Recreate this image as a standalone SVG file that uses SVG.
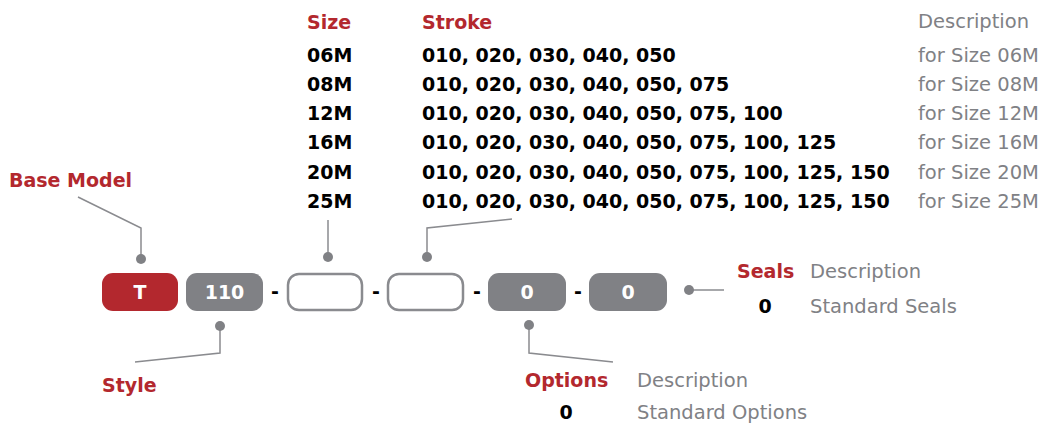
<svg xmlns="http://www.w3.org/2000/svg" width="1046" height="423" viewBox="0 0 1046 423">
<style>
.red{font-family:"DejaVu Sans","Liberation Sans",sans-serif;font-weight:bold;font-size:19px;fill:#b3282e}
.blk{font-family:"DejaVu Sans","Liberation Sans",sans-serif;font-weight:bold;font-size:19px;fill:#000}
.gry{font-family:"DejaVu Sans","Liberation Sans",sans-serif;font-size:19.5px;fill:#808185}
.wht{font-family:"DejaVu Sans","Liberation Sans",sans-serif;font-weight:bold;font-size:19px;fill:#fff;text-anchor:middle}
.dash{font-family:"DejaVu Sans","Liberation Sans",sans-serif;font-weight:bold;font-size:19px;fill:#000;text-anchor:middle}
.fillred{fill:#b3282e}
.fillgry{fill:#808185}
.outline{fill:#fff;stroke:#8a8b8f;stroke-width:2.5}
.conn{fill:none;stroke:#8a8b8f;stroke-width:1.5}
.dot{fill:#808185}
</style>
<rect width="1046" height="423" fill="#fff"/>
<g id="connectors">
<polyline class="conn" points="78,197 141,228 141,259"/>
<circle class="dot" cx="141" cy="259" r="5"/>
<polyline class="conn" points="135,362 220,353 220,326"/>
<circle class="dot" cx="220" cy="326" r="5"/>
<polyline class="conn" points="328,220 328,257"/>
<circle class="dot" cx="328" cy="257" r="5"/>
<polyline class="conn" points="512,219 427,228 427,257"/>
<circle class="dot" cx="427" cy="257" r="5"/>
<polyline class="conn" points="529,325 529,353 613,362"/>
<circle class="dot" cx="529" cy="325" r="5"/>
<polyline class="conn" points="689,290 724,290"/>
<circle class="dot" cx="689" cy="290" r="5"/>
</g>
<g id="box-T"><rect class="fillred" x="102" y="273" width="76" height="38" rx="11"/><text class="wht" x="140" y="299">T</text></g>
<g id="box-110"><rect class="fillgry" x="186" y="273" width="77" height="38" rx="11"/><text class="wht" x="224.5" y="299">110</text></g>
<g id="dash1"><text class="dash" x="275" y="298">-</text></g>
<g id="box-size"><rect class="outline" x="288" y="274" width="74" height="36" rx="11"/></g>
<g id="dash2"><text class="dash" x="376" y="298">-</text></g>
<g id="box-stroke"><rect class="outline" x="388" y="274" width="75" height="36" rx="11"/></g>
<g id="dash3"><text class="dash" x="477" y="298">-</text></g>
<g id="box-options"><rect class="fillgry" x="488" y="273" width="78" height="38" rx="11"/><text class="wht" x="527" y="299">0</text></g>
<g id="dash4"><text class="dash" x="578" y="298">-</text></g>
<g id="box-seals"><rect class="fillgry" x="589" y="273" width="78" height="38" rx="11"/><text class="wht" x="628" y="299">0</text></g>
<g id="base-model"><text class="red" x="9" y="187">Base Model</text></g>
<g id="style"><text class="red" x="102" y="392">Style</text></g>
<g id="size-table">
<text class="red" x="307" y="29">Size</text>
<text class="red" x="422" y="29">Stroke</text>
<text class="gry" x="918" y="28">Description</text>
<text class="blk" x="307" y="62">06M</text>
<text class="blk" x="307" y="91">08M</text>
<text class="blk" x="307" y="120">12M</text>
<text class="blk" x="307" y="149">16M</text>
<text class="blk" x="307" y="179">20M</text>
<text class="blk" x="307" y="208">25M</text>
<text class="blk" x="422" y="62">010, 020, 030, 040, 050</text>
<text class="blk" x="422" y="91">010, 020, 030, 040, 050, 075</text>
<text class="blk" x="422" y="120">010, 020, 030, 040, 050, 075, 100</text>
<text class="blk" x="422" y="149">010, 020, 030, 040, 050, 075, 100, 125</text>
<text class="blk" x="422" y="179">010, 020, 030, 040, 050, 075, 100, 125, 150</text>
<text class="blk" x="422" y="208">010, 020, 030, 040, 050, 075, 100, 125, 150</text>
<text class="gry" x="918" y="62">for Size 06M</text>
<text class="gry" x="918" y="91">for Size 08M</text>
<text class="gry" x="918" y="120">for Size 12M</text>
<text class="gry" x="918" y="149">for Size 16M</text>
<text class="gry" x="918" y="179">for Size 20M</text>
<text class="gry" x="918" y="208">for Size 25M</text>
</g>
<g id="seals">
<text class="red" x="737" y="278">Seals</text>
<text class="gry" x="810" y="278">Description</text>
<text class="blk" x="765" y="313" text-anchor="middle">0</text>
<text class="gry" x="810" y="313">Standard Seals</text>
</g>
<g id="options">
<text class="red" x="525" y="387">Options</text>
<text class="gry" x="637" y="387">Description</text>
<text class="blk" x="566" y="419" text-anchor="middle">0</text>
<text class="gry" x="637" y="419">Standard Options</text>
</g>
</svg>
